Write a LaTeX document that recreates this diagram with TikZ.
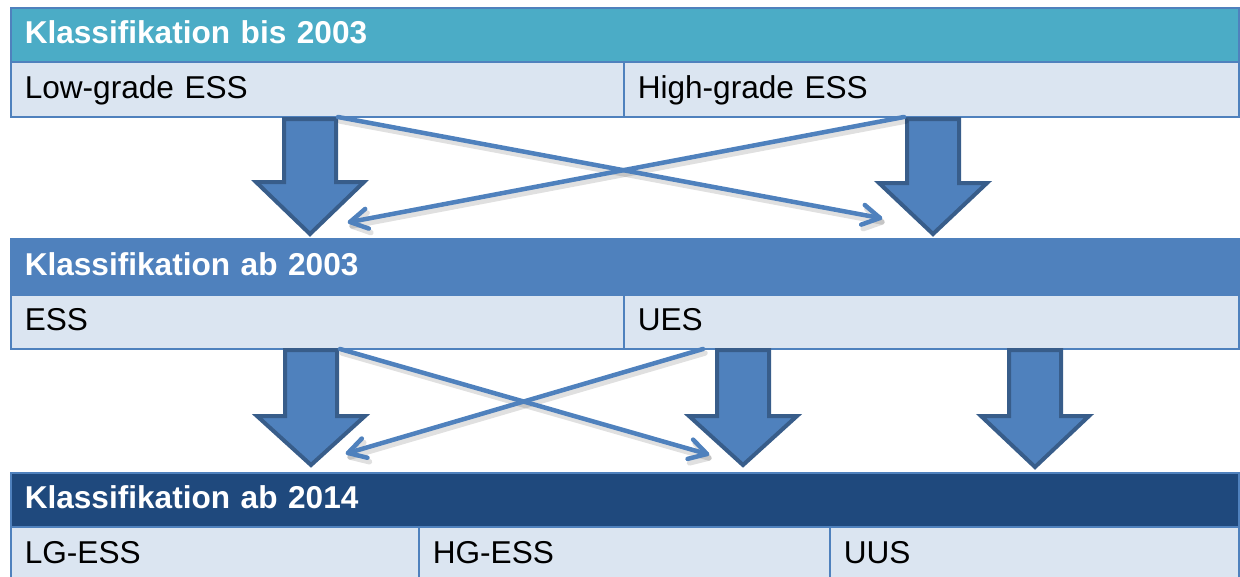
\documentclass[tikz,border=0pt]{standalone}
\usepackage{fontspec}
\setmainfont{Liberation Sans}
\usetikzlibrary{calc}
\definecolor{hdrA}{HTML}{4BACC6}
\definecolor{hdrB}{HTML}{4F81BD}
\definecolor{hdrC}{HTML}{1F497D}
\definecolor{rowfill}{HTML}{DBE5F1}
\definecolor{bordc}{HTML}{4F81BD}
\definecolor{arrfill}{HTML}{4F81BD}
\definecolor{arrline}{HTML}{385D8A}
\newcommand\BlockArrow[4]{%
  \draw[blockarrow] ({#1-26},#2) -- ({#1+26},#2) -- ({#1+26},#3) -- ({#1+54},#3)
    -- (#1,#4) -- ({#1-54},#3) -- ({#1-26},#3) -- cycle;}
\tikzset{
  cellbase/.style={draw=bordc, line width=1.5pt, anchor=north west, inner xsep=14pt,
    inner ysep=0pt, text height=23pt, text depth=5pt, align=left},
  hdr/.style={cellbase, text=white, font=\fontsize{31.6}{38}\selectfont\bfseries},
  rowcell/.style={cellbase, fill=rowfill, text=black, font=\fontsize{31.6}{38}\selectfont},
  blockarrow/.style={fill=arrfill, draw=arrline, line width=4pt, line join=miter},
  xline/.style={draw=arrfill, line width=4.5pt, line cap=round, line join=round},
  xshadow/.style={draw=black, opacity=0.12, line width=5.5pt, line cap=round, line join=round}
}
\begin{document}
\begin{tikzpicture}[x=1pt,y=-1pt]
\useasboundingbox (0,0) rectangle (1240,576);
% table 1
\node[hdr, fill=hdrA, text width=1200pt, minimum height=54pt] (h1) at (10,7) {Klassifikation bis 2003};
\node[rowcell, text width=585pt, minimum height=55pt] (lg) at (10,61) {Low-grade ESS};
\node[rowcell, text width=587pt, minimum height=55pt] (hg) at (623,61) {High-grade ESS};
% table 2
\node[hdr, fill=hdrB, text width=1200pt, minimum height=56pt] (h2) at (10,238) {Klassifikation ab 2003};
\node[rowcell, text width=585pt, minimum height=54pt] (ess) at (10,294) {ESS};
\node[rowcell, text width=587pt, minimum height=54pt] (ues) at (623,294) {UES};
% table 3
\node[hdr, fill=hdrC, text width=1200pt, minimum height=54pt] (h3) at (10,472) {Klassifikation ab 2014};
\node[rowcell, text width=380pt, minimum height=56pt] (lg2) at (10,526) {LG-ESS};
\node[rowcell, text width=383pt, minimum height=56pt] (hg2) at (418,526) {HG-ESS};
\node[rowcell, text width=381pt, minimum height=56pt] (uus) at (829,526) {UUS};
% block arrows
\BlockArrow{310}{119}{182}{234}
\BlockArrow{933}{119}{183}{234}
\BlockArrow{311}{350}{416}{465}
\BlockArrow{743}{350}{416}{465}
\BlockArrow{1035}{350}{416}{467}
% thin arrows
\coordinate (t1a) at (338,117); \coordinate (t1b) at (880,218);
\coordinate (t2a) at (904,117); \coordinate (t2b) at (350,222);
\coordinate (t3a) at (340,349); \coordinate (t3b) at (707,454);
\coordinate (t4a) at (703,349); \coordinate (t4b) at (348,453);
\foreach \a/\b in {t1a/t1b,t2a/t2b,t3a/t3b,t4a/t4b}{
  \draw[xshadow] ($(\a)+(2,4)$) -- ($(\b)+(2,4)$);
  \draw[xshadow] ($(\b)!20pt!30:(\a)+(2,4)$) -- ($(\b)+(2,4)$) -- ($(\b)!20pt!-30:(\a)+(2,4)$);
}
\foreach \a/\b in {t1a/t1b,t2a/t2b,t3a/t3b,t4a/t4b}{
  \draw[xline] (\a) -- (\b);
  \draw[xline] ($(\b)!20pt!30:(\a)$) -- (\b) -- ($(\b)!20pt!-30:(\a)$);
}
\end{tikzpicture}
\end{document}
